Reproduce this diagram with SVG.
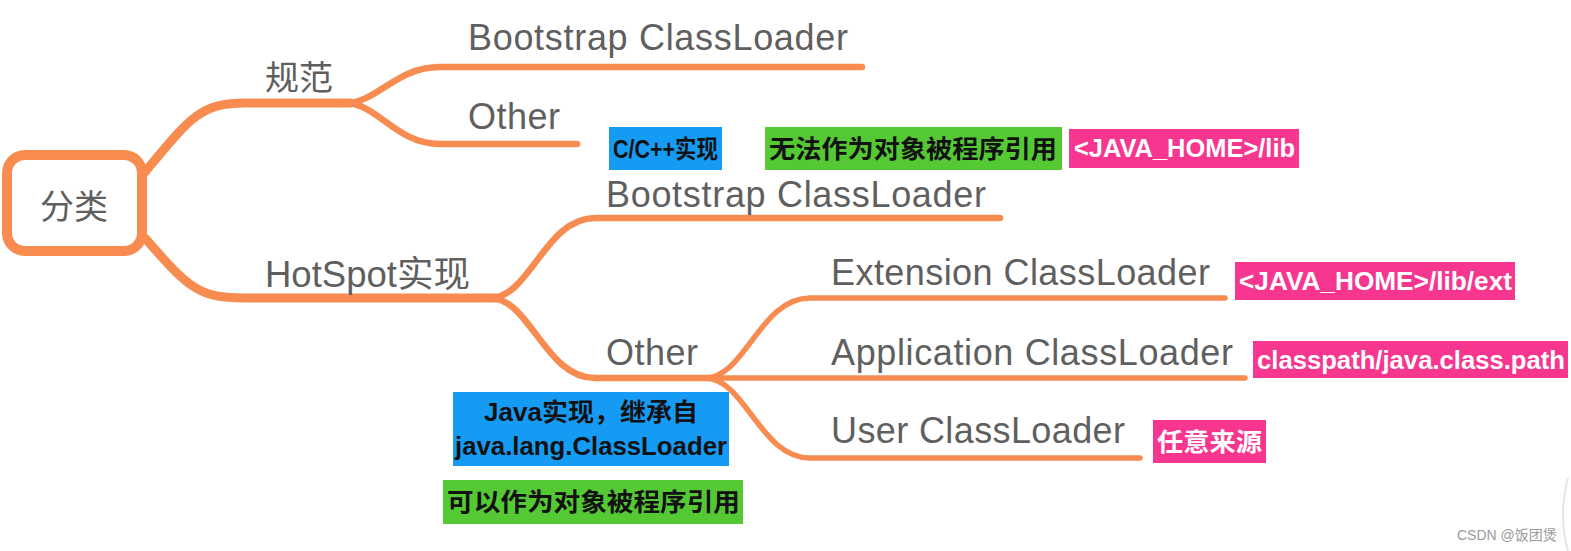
<svg xmlns="http://www.w3.org/2000/svg" width="1571" height="551" viewBox="0 0 1571 551">
<style>
.t{font-family:"Liberation Sans","Noto Sans CJK SC",sans-serif;fill:#5f5f5f;font-size:36px}
.c{font-family:"Noto Sans CJK SC","Liberation Sans",sans-serif;fill:#5f5f5f;font-size:34px}
.lb{font-family:"Liberation Sans","Noto Sans CJK SC",sans-serif;font-weight:bold;font-size:25px}
.lk{fill:#111}
.lw{fill:#fff}
.e{fill:none;stroke:#F88B50;stroke-linecap:round;stroke-linejoin:round}
.w1{stroke-width:9}
.w2{stroke-width:6.5}
.w3{stroke-width:5.5}
.blue{fill:#169BF5}
.green{fill:#55C934}
.pink{fill:#F7368F}
</style>
<rect width="1571" height="551" fill="#fff"/>
<g id="connectors">
<path class="e w1" d="M145,172 C190,118 200,103 245,103 H350"/>
<path class="e w1" d="M145,238 C190,290 200,298 245,298 H497"/>
<path class="e w2" d="M345,103 C378,103 395,67 440,67 H862"/>
<path class="e w2" d="M345,103 C378,103 395,144 440,144 H577"/>
<path class="e w2" d="M490,298 C530,298 545,218 595,218 H1000"/>
<path class="e w2" d="M490,298 C530,298 545,378 595,378 H712"/>
<path class="e w3" d="M705,378 C745,378 760,298 810,298 H1225"/>
<path class="e w3" d="M705,378 H1245"/>
<path class="e w3" d="M705,378 C745,378 760,458 810,458 H1140"/>
</g>
<g id="root">
<rect x="7" y="155" width="135" height="96" rx="18" fill="#fff" stroke="#F88B50" stroke-width="10"/>
<text class="c" x="74" y="219" text-anchor="middle" textLength="68" lengthAdjust="spacingAndGlyphs">分类</text>
</g>
<g id="spec"><text class="c" x="265" y="90" textLength="68" lengthAdjust="spacingAndGlyphs">规范</text></g>
<g id="spec-bootstrap"><text class="t" x="468" y="50" textLength="380" lengthAdjust="spacing">Bootstrap ClassLoader</text></g>
<g id="spec-other"><text class="t" x="468" y="129" textLength="92" lengthAdjust="spacing">Other</text></g>
<g id="hotspot"><text class="t" x="265" y="287" textLength="205" lengthAdjust="spacingAndGlyphs">HotSpot实现</text></g>
<g id="hs-bootstrap"><text class="t" x="606" y="207" textLength="380" lengthAdjust="spacing">Bootstrap ClassLoader</text></g>
<g id="hs-other"><text class="t" x="606" y="365" textLength="92" lengthAdjust="spacing">Other</text></g>
<g id="ext"><text class="t" x="831" y="285" textLength="379" lengthAdjust="spacing">Extension ClassLoader</text></g>
<g id="app"><text class="t" x="831" y="365" textLength="402" lengthAdjust="spacing">Application ClassLoader</text></g>
<g id="user"><text class="t" x="831" y="443" textLength="294" lengthAdjust="spacing">User ClassLoader</text></g>
<g id="tag-cpp">
<rect class="blue" x="609" y="127" width="113" height="43"/>
<text class="lb lk" x="613" y="158" textLength="105" lengthAdjust="spacingAndGlyphs">C/C++实现</text>
</g>
<g id="tag-noref">
<rect class="green" x="765" y="127" width="297" height="43"/>
<text class="lb lk" x="769" y="158" textLength="288" lengthAdjust="spacingAndGlyphs">无法作为对象被程序引用</text>
</g>
<g id="tag-lib">
<rect class="pink" x="1069" y="129" width="230" height="39"/>
<text class="lb lw" x="1074" y="157" textLength="221" lengthAdjust="spacingAndGlyphs">&lt;JAVA_HOME&gt;/lib</text>
</g>
<g id="tag-ext">
<rect class="pink" x="1235" y="262" width="280" height="38"/>
<text class="lb lw" x="1239" y="290" textLength="273" lengthAdjust="spacingAndGlyphs">&lt;JAVA_HOME&gt;/lib/ext</text>
</g>
<g id="tag-cp">
<rect class="pink" x="1253" y="341" width="315" height="37"/>
<text class="lb lw" x="1257" y="369" textLength="308" lengthAdjust="spacingAndGlyphs">classpath/java.class.path</text>
</g>
<g id="tag-any">
<rect class="pink" x="1153" y="420" width="113" height="43"/>
<text class="lb lw" x="1157" y="451" textLength="105" lengthAdjust="spacingAndGlyphs">任意来源</text>
</g>
<g id="tag-java">
<rect class="blue" x="453" y="392" width="276" height="74"/>
<text class="lb lk" x="591" y="421" text-anchor="middle" textLength="214" lengthAdjust="spacingAndGlyphs">Java实现，继承自</text>
<text class="lb lk" x="591" y="455" text-anchor="middle" textLength="272" lengthAdjust="spacingAndGlyphs">java.lang.ClassLoader</text>
</g>
<g id="tag-ref">
<rect class="green" x="443" y="480" width="300" height="44"/>
<text class="lb lk" x="447" y="511" textLength="293" lengthAdjust="spacingAndGlyphs">可以作为对象被程序引用</text>
</g>
<text x="1457" y="540" font-family="'Liberation Sans','Noto Sans CJK SC',sans-serif" font-size="14" fill="#9a9a9a">CSDN @饭团煲</text>
<path d="M1568,478 Q1558,515 1568,551" fill="none" stroke="#e6e6e6" stroke-width="2"/>
</svg>
